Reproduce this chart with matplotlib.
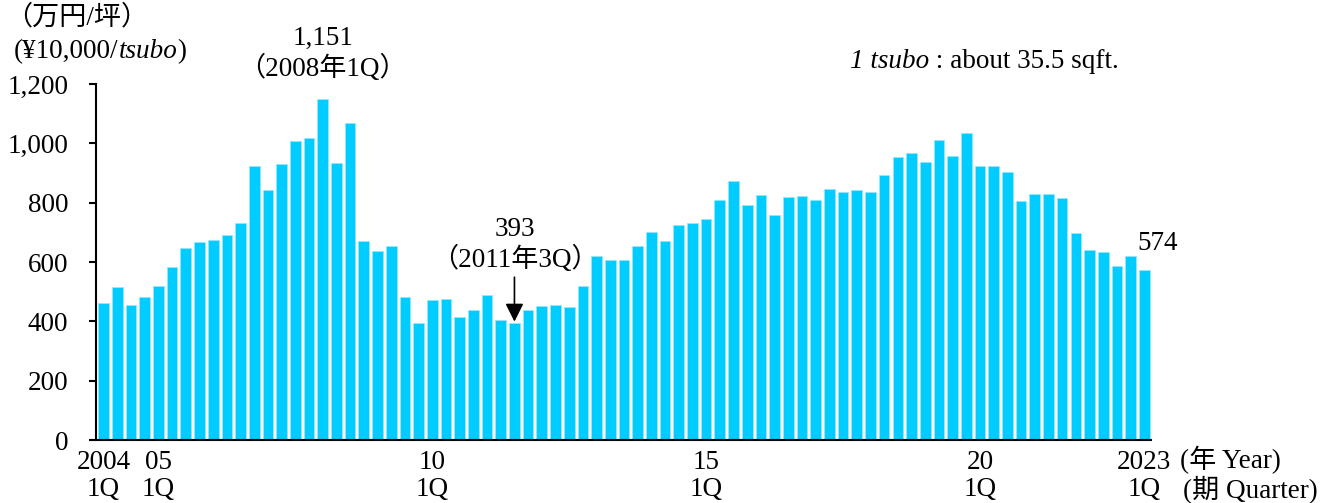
import numpy as np
import matplotlib.pyplot as plt

FONT = ['Liberation Serif', 'Noto Sans CJK JP', 'DejaVu Serif']
plt.rcParams['font.family'] = FONT

# quarterly price, 2004 1Q .. 2023 1Q (万円/坪)
values = [461, 515, 455, 483,   # 2004
          520, 584, 648, 666,   # 2005
          673, 690, 730, 922,   # 2006
          843, 929, 1008, 1018,  # 2007
          1151, 933, 1070, 672,  # 2008
          636, 655, 482, 394,   # 2009
          471, 474, 416, 439,   # 2010
          488, 404, 393, 437,   # 2011
          451, 456, 448, 520,   # 2012
          621, 607, 607, 655,   # 2013
          700, 672, 724, 730,   # 2014
          744, 808, 873, 793,   # 2015
          826, 757, 819, 821,   # 2016
          809, 847, 837, 842,   # 2017
          837, 894, 954, 968,   # 2018
          936, 1010, 958, 1034,  # 2019
          922, 925, 903, 805,   # 2020
          828, 828, 815, 697,   # 2021
          640, 635, 588, 621,   # 2022
          574]                  # 2023
tick_pos = [0, 4, 24, 44, 64, 76]
tick_labels = ['2004\n1Q', '05\n1Q', '10\n1Q', '15\n1Q', '20\n1Q', '2023\n1Q']
peak_idx, peak_label = 16, '1,151\n（2008年1Q）'
low_idx, low_label = 30, '393\n（2011年3Q）'

FS = 19.5
fig = plt.figure(figsize=(13.37, 5.03), dpi=100)
ax = fig.add_axes([0.0718, 0.1252, 0.7891, 0.7078])

x = np.arange(len(values))
ax.bar(x, values, width=0.78, color='#00ccff', edgecolor='#8fe9ff', linewidth=0.6)

ax.set_xlim(-0.56, 76.49)
ax.set_ylim(0, 1200)
ax.set_yticks(range(0, 1201, 200))
ax.set_yticklabels([f'{v:,}' for v in range(0, 1201, 200)], fontsize=FS)
ax.set_xticks(tick_pos)
ax.set_xticklabels(tick_labels, fontsize=FS, linespacing=1.12)
ax.tick_params(axis='y', direction='out', length=5, width=1.5, pad=15)
ax.tick_params(axis='x', length=0, pad=7)
for s in ['top', 'right']:
    ax.spines[s].set_visible(False)
for s in ['left', 'bottom']:
    ax.spines[s].set_linewidth(1.5)

# annotations
ax.annotate(peak_label, xy=(peak_idx, values[peak_idx]), xytext=(0, 12),
            textcoords='offset points', ha='center', va='bottom',
            fontsize=FS, linespacing=1.2)
ax.annotate('', xy=(low_idx, values[low_idx] + 6), xytext=(0, 32),
            textcoords='offset points',
            arrowprops=dict(arrowstyle='-|>,head_length=1.1,head_width=0.55',
                            mutation_scale=10, shrinkA=0, shrinkB=0,
                            color='black', lw=1.2))
ax.annotate(low_label, xy=(low_idx, values[low_idx]), xytext=(0, 36),
            textcoords='offset points', ha='center', va='bottom',
            fontsize=FS, linespacing=1.2)
ax.annotate(f'{values[-1]:,}', xy=(x[-1], values[-1]), xytext=(-5, 10),
            textcoords='offset points', ha='left', va='bottom', fontsize=FS)

fig.canvas.draw()
r = fig.canvas.get_renderer()


def rich_text(px, py, parts):
    # px, py in pixels from top-left
    xf = px / fig.bbox.width
    yf = 1 - py / fig.bbox.height
    for s, style in parts:
        t = fig.text(xf, yf, s, fontsize=FS, style=style, family=FONT,
                     ha='left', va='center')
        bb = t.get_window_extent(renderer=r)
        xf += bb.width / fig.bbox.width


rich_text(5, 18, [('（万円/坪）', 'normal')])
rich_text(14, 52, [('(¥10,000/', 'normal'), ('tsubo', 'italic'), (')', 'normal')])
rich_text(850, 62, [('1 tsubo', 'italic'), (' : about 35.5 sqft.', 'normal')])
rich_text(1180, 460, [('(年 Year)', 'normal')])
rich_text(1183, 490, [('(期 Quarter)', 'normal')])

fig.savefig('out.png', dpi=100)
